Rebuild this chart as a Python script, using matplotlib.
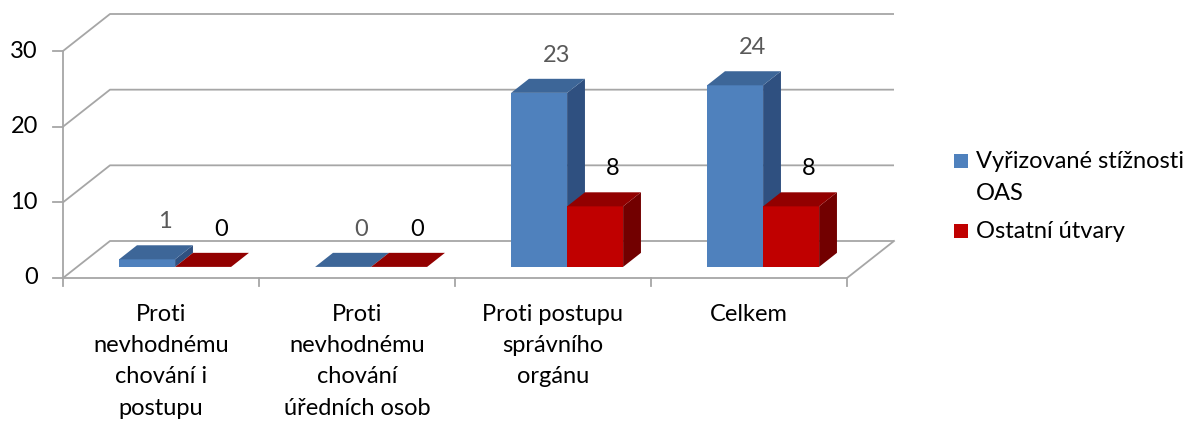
import matplotlib
matplotlib.use("Agg")
import matplotlib.pyplot as plt
from matplotlib.patches import Polygon, Rectangle

plt.rcParams['font.family'] = ['Lato', 'DejaVu Sans']

categories = ["Proti\nnevhodnému\nchování i\npostupu",
              "Proti\nnevhodnému\nchování\núředních osob",
              "Proti postupu\nsprávního\norgánu",
              "Celkem"]
series_names = ["Vyřizované stížnosti", "Ostatní útvary"]
series_extra = ["OAS", ""]
oas = [1, 0, 23, 24]
ostatni = [0, 0, 8, 8]
yticks = [0, 10, 20, 30]

W, H = 1190, 421
fig = plt.figure(figsize=(W / 100, H / 100), dpi=100)

# front plane: category 0..4 -> px 63..847, value 0..30 -> px 278..51
x0p, x1p, y0p, y1p = 63, 847, 278, 51
ax = fig.add_axes([x0p / W, (H - y0p) / H, (x1p - x0p) / W, (y0p - y1p) / H])
ax.set_xlim(0, 4)
ax.set_ylim(0, 30)
ax.axis('off')

px_cat = (x1p - x0p) / 4.0
px_val = (y0p - y1p) / 30.0
DX = 47 / px_cat
DY = 37 / px_val

FS = 17


def P(x, v, z):
    return (x + z * DX, v + z * DY)


grid_c = '#A6A6A6'
lw = 1.3
# gridlines + left wall
for v in yticks:
    pts = [P(0, v, 0), P(0, v, 1), P(4, v, 1)]
    ax.plot([p[0] for p in pts], [p[1] for p in pts], color=grid_c, lw=lw,
            clip_on=False, zorder=1, solid_capstyle='butt')
# front vertical axis
ax.plot([0, 0], [0, 30], color=grid_c, lw=lw, clip_on=False, zorder=1)
# floor front + right edge
pts = [P(0, 0, 0), P(4, 0, 0), P(4, 0, 1)]
ax.plot([p[0] for p in pts], [p[1] for p in pts], color=grid_c, lw=lw,
        clip_on=False, zorder=1)
# y ticks
for v in yticks:
    ax.plot([-10 / px_cat, 0], [v, v], color=grid_c, lw=lw, clip_on=False, zorder=1)
    ax.text(-25 / px_cat, v, str(v), ha='right', va='center', fontsize=FS,
            color='black')
# category ticks
for i in range(5):
    ax.plot([i, i], [0, -8 / px_val], color=grid_c, lw=lw, clip_on=False, zorder=1)
for i, lab in enumerate(categories):
    ax.text(i + 0.5, -26 / px_val, lab, ha='center', va='top', fontsize=FS,
            linespacing=1.6, color='black')

# bars
bw = 56 / px_cat
z0, z1 = 0.30, 0.68
styles = [
    dict(front='#4F81BD', top='#3D6698', side='#2F5080', lab='#595959'),
    dict(front='#C00000', top='#920000', side='#720000', lab='black'),
]
for i in range(len(categories)):
    c = i + 0.5
    for s, vals in enumerate([oas, ostatni]):
        h = vals[i]
        xa = c - bw + s * bw
        xb = xa + bw
        st = styles[s]
        front = [P(xa, 0, z0), P(xb, 0, z0), P(xb, h, z0), P(xa, h, z0)]
        top = [P(xa, h, z0), P(xb, h, z0), P(xb, h, z1), P(xa, h, z1)]
        side = [P(xb, 0, z0), P(xb, 0, z1), P(xb, h, z1), P(xb, h, z0)]
        for poly, col in [(side, st['side']), (front, st['front']), (top, st['top'])]:
            ax.add_patch(Polygon(poly, closed=True, facecolor=col, edgecolor='none',
                                 zorder=3 + s, clip_on=False))
        lx, ly = P((xa + xb) / 2, h, z1)
        ax.annotate(str(h), (lx, ly), xytext=(0, 17), textcoords='offset points',
                    ha='center', va='center', fontsize=FS, color=st['lab'],
                    zorder=6)

# legend
def fx(px):
    return px / W


def fy(py):
    return (H - py) / H

leg_items = [(154, 162, styles[0]['front']), (224, 231, styles[1]['front'])]
for (ytop, yc, col), name, extra in zip(leg_items, series_names, series_extra):
    fig.patches.append(Rectangle((fx(954), fy(ytop + 14)), 14 / W, 14 / H,
                                 transform=fig.transFigure, facecolor=col,
                                 edgecolor='none'))
    fig.text(fx(976), fy(yc), name, ha='left', va='center', fontsize=FS,
             color='black')
    if extra:
        fig.text(fx(976), fy(yc + 31), extra, ha='left', va='center',
                 fontsize=FS, color='black')

fig.savefig('out.png', dpi=100)
